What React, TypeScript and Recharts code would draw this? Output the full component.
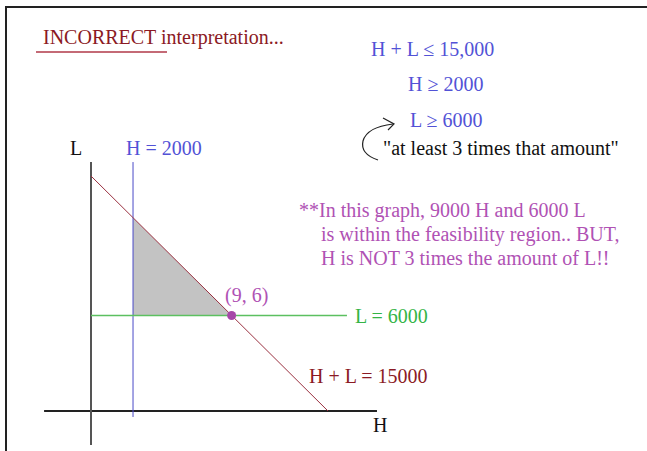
import React from "react";
import {
  ComposedChart,
  XAxis,
  YAxis,
  Area,
  ReferenceLine,
  ReferenceDot,
} from "recharts";

// values in thousands (it is not drawn exactly to scale)
const H_DOMAIN: [number, number] = [-3, 18.5];
const L_DOMAIN: [number, number] = [-2.5, 16.5];
const H_AXIS_SPAN = [-2.97, 18.1];
const L_AXIS_SPAN = [-2.17, 15.89];
const H_MIN = 2.66; // where "H = 2000" was drawn
const H_MIN_SPAN = [-0.38, 15.89];
const L_MIN = 6.1; // where "L = 6000" was drawn
const L_MIN_SPAN = [0, 16.2];
const TOTAL_LINE = [
  { h: 0, l: 15 },
  { h: 15, l: 0 },
];
const REGION = [
  { h: 2.66, band: [6.1, 12.34] },
  { h: 8.9, band: [6.1, 6.1] },
];
const CORNER = { h: 8.9, l: 6.1 };

const FONT = '"Liberation Serif", "Times New Roman", serif';
const DARK_RED = "#8b1a24";
const BLUE = "#5252d6";
const PURPLE = "#b052b4";
const GREEN = "#34b446";

const NOTE = [
  "**In this graph, 9000 H and 6000 L",
  "is within the feasibility region.. BUT,",
  "H is NOT 3 times the amount of L!!",
];

export default function App() {
  return (
    <div
      style={{
        position: "absolute",
        left: 0,
        top: 0,
        width: 647,
        height: 451,
        background: "#fff",
        overflow: "hidden",
      }}
    >
      <div
        style={{
          position: "absolute",
          left: 5,
          top: 6,
          width: 660,
          height: 460,
          borderTop: "2px solid #222",
          borderLeft: "2px solid #222",
        }}
      />
      <div style={{ position: "absolute", left: 0, top: 0 }}>
        <ComposedChart
          width={647}
          height={451}
          margin={{ top: 152.5, right: 263.7, bottom: 0.8, left: 43.6 }}
        >
          <XAxis type="number" dataKey="h" domain={H_DOMAIN} allowDataOverflow hide />
          <YAxis type="number" domain={L_DOMAIN} allowDataOverflow hide />
          <Area
            data={REGION}
            dataKey="band"
            type="linear"
            stroke="none"
            fill="#c3c3c3"
            fillOpacity={1}
            isAnimationActive={false}
          />
          <ReferenceLine
            segment={[
              { x: H_AXIS_SPAN[0], y: 0 },
              { x: H_AXIS_SPAN[1], y: 0 },
            ]}
            stroke="#222"
            strokeWidth={2}
            ifOverflow="visible"
          />
          <ReferenceLine
            segment={[
              { x: 0, y: L_AXIS_SPAN[0] },
              { x: 0, y: L_AXIS_SPAN[1] },
            ]}
            stroke="#555"
            strokeWidth={2}
            ifOverflow="visible"
          />
          <ReferenceLine
            segment={[
              { x: H_MIN, y: H_MIN_SPAN[0] },
              { x: H_MIN, y: H_MIN_SPAN[1] },
            ]}
            stroke="#4a4ac8"
            strokeWidth={1}
            ifOverflow="visible"
          />
          <ReferenceLine
            segment={[
              { x: L_MIN_SPAN[0], y: L_MIN },
              { x: L_MIN_SPAN[1], y: L_MIN },
            ]}
            stroke="#5cc060"
            strokeWidth={1.5}
            ifOverflow="visible"
          />
          <ReferenceLine
            segment={[
              { x: TOTAL_LINE[0].h, y: TOTAL_LINE[0].l },
              { x: TOTAL_LINE[1].h, y: TOTAL_LINE[1].l },
            ]}
            stroke="#9a3040"
            strokeWidth={1}
            ifOverflow="visible"
          />
          <ReferenceDot
            x={CORNER.h}
            y={CORNER.l}
            r={4.5}
            fill="#a648a8"
            stroke="none"
            ifOverflow="visible"
          />
        </ComposedChart>
      </div>
      <svg
        width={647}
        height={451}
        style={{
          position: "absolute",
          left: 0,
          top: 0,
          pointerEvents: "none",
          fontFamily: FONT,
          fontSize: 20,
        }}
      >
        <text x={43} y={44} fill={DARK_RED}>INCORRECT interpretation...</text>
        <line x1={36} y1={52} x2={167} y2={52} stroke="#b03848" strokeWidth={1.5} />
        <text x={371} y={56} fill={BLUE}>H + L ≤ 15,000</text>
        <text x={408} y={91} fill={BLUE}>H ≥ 2000</text>
        <text x={410} y={127} fill={BLUE}>L ≥ 6000</text>
        <text x={383} y={155} fill="#111">"at least 3 times that amount"</text>
        <path
          d="M 378 160 Q 360 154 363 141 Q 367 127 393 124"
          fill="none"
          stroke="#222"
          strokeWidth={1.2}
        />
        <path d="M 383 118 L 394 124 L 388 130" fill="none" stroke="#222" strokeWidth={1.2} />
        <text x={70} y={155} fill="#111">L</text>
        <text x={126} y={155} fill={BLUE}>H = 2000</text>
        <text x={299} y={217} fill={PURPLE}>{NOTE[0]}</text>
        <text x={321} y={241} fill={PURPLE}>{NOTE[1]}</text>
        <text x={321} y={265} fill={PURPLE}>{NOTE[2]}</text>
        <text x={225} y={302} fill={PURPLE}>(9, 6)</text>
        <text x={355} y={323} fill={GREEN}>L = 6000</text>
        <text x={309} y={383} fill={DARK_RED}>H + L = 15000</text>
        <text x={373} y={432} fill="#111">H</text>
      </svg>
    </div>
  );
}
